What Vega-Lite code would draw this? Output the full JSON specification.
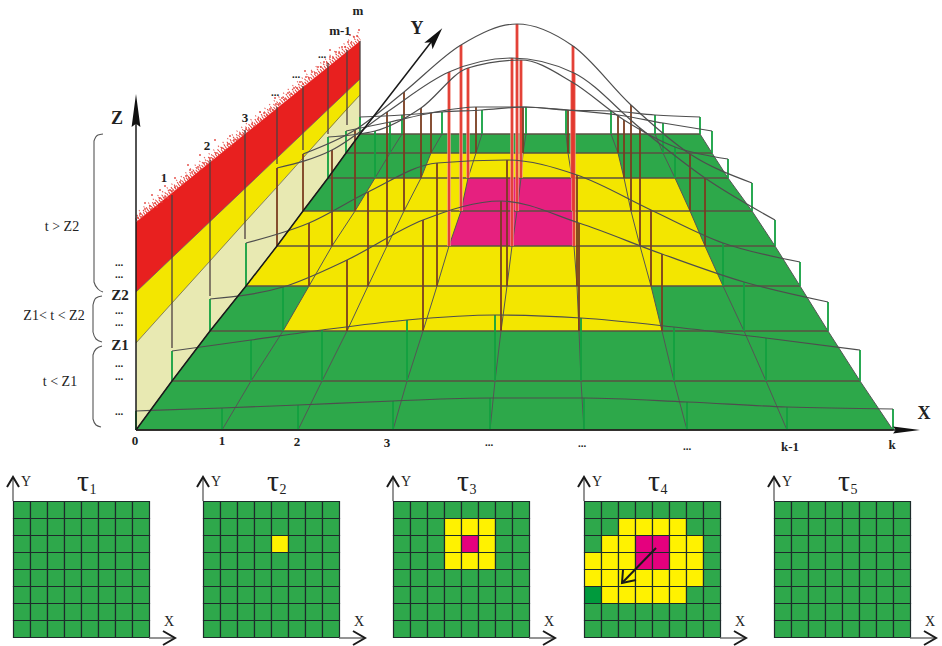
{"$schema":"https://vega.github.io/schema/vega-lite/v6.json","width":942,"height":646,"padding":0,"autosize":{"type":"none"},"background":"white",
"config":{"view":{"stroke":null},"axis":{"disable":true},"legend":{"disable":true},"text":{"font":"Liberation Serif","color":"#222"}},
"resolve":{"scale":{"fill":"independent"}},
"datasets":{
"floor":[{"y":134,"x":360,"x2":700},{"y":153,"x":346,"x2":712},{"y":178,"x":328,"x2":728},{"y":211,"x":303,"x2":752},{"y":246,"x":277,"x2":775},{"y":286,"x":246,"x2":800},{"y":331,"x":210,"x2":828},{"y":381,"x":172,"x2":860},{"y":430,"x":136,"x2":893}],
"yellow":[{"g":1,"y":153,"x":431,"x2":618},{"g":1,"y":178,"x":421,"x2":624},{"g":2,"y":178,"x":375,"x2":675},{"g":2,"y":211,"x":355,"x2":690},{"g":3,"y":211,"x":303,"x2":690},{"g":3,"y":246,"x":277,"x2":705},{"g":3,"y":286,"x":246,"x2":723},{"g":4,"y":286,"x":309,"x2":651},{"g":4,"y":331,"x":283,"x2":662}],
"pink":[{"y":178,"x":468,"x2":572},{"y":211,"x":461,"x2":573},{"y":246,"x":449,"x2":574}],
"sticks":[
{"p":134,"l":0,"x":360,"t":117,"c":"g"},{"p":134,"l":1,"x":402,"t":115,"c":"g"},{"p":134,"l":2,"x":442,"t":112,"c":"g"},{"p":134,"l":3,"x":482,"t":110,"c":"g"},{"p":134,"l":4,"x":526,"t":107,"c":"g"},{"p":134,"l":5,"x":566,"t":110,"c":"g"},{"p":134,"l":6,"x":611,"t":111,"c":"g"},{"p":134,"l":7,"x":655,"t":115,"c":"g"},{"p":134,"l":8,"x":700,"t":117,"c":"g"},
{"p":153,"l":0,"x":346,"t":131,"c":"g"},{"p":153,"l":1,"x":390,"t":122,"c":"g"},{"p":153,"l":2,"x":431,"t":113,"c":"b"},{"p":153,"l":3,"x":476,"t":107,"c":"b"},{"p":153,"l":4,"x":523,"t":107,"c":"b"},{"p":153,"l":5,"x":568,"t":110,"c":"b"},{"p":153,"l":6,"x":618,"t":115,"c":"b"},{"p":153,"l":7,"x":663,"t":123,"c":"g"},{"p":153,"l":8,"x":712,"t":131,"c":"g"},
{"p":178,"l":0,"x":328,"t":137,"c":"g"},{"p":178,"l":1,"x":375,"t":131,"c":"g"},{"p":178,"l":2,"x":421,"t":108,"c":"b"},{"p":178,"l":3,"x":468,"t":68,"c":"r"},{"p":178,"l":4,"x":521,"t":60,"c":"r"},{"p":178,"l":5,"x":572,"t":82,"c":"r"},{"p":178,"l":6,"x":624,"t":120,"c":"b"},{"p":178,"l":7,"x":675,"t":147,"c":"g"},{"p":178,"l":8,"x":728,"t":159,"c":"g"},
{"p":211,"l":0,"x":303,"t":154,"c":"b"},{"p":211,"l":1,"x":355,"t":130,"c":"b"},{"p":211,"l":2,"x":404,"t":92,"c":"b"},{"p":211,"l":3,"x":461,"t":45,"c":"r"},{"p":211,"l":4,"x":517,"t":24,"c":"r"},{"p":211,"l":5,"x":573,"t":46,"c":"r"},{"p":211,"l":6,"x":631,"t":105,"c":"b"},{"p":211,"l":7,"x":690,"t":154,"c":"b"},{"p":211,"l":8,"x":752,"t":183,"c":"g"},
{"p":246,"l":0,"x":277,"t":168,"c":"b"},{"p":246,"l":1,"x":332,"t":150,"c":"b"},{"p":246,"l":2,"x":387,"t":112,"c":"b"},{"p":246,"l":3,"x":449,"t":72,"c":"r"},{"p":246,"l":4,"x":512,"t":58,"c":"r"},{"p":246,"l":5,"x":574,"t":73,"c":"r"},{"p":246,"l":6,"x":640,"t":128,"c":"b"},{"p":246,"l":7,"x":705,"t":178,"c":"b"},{"p":246,"l":8,"x":775,"t":220,"c":"g"},
{"p":286,"l":0,"x":246,"t":243,"c":"g"},{"p":286,"l":1,"x":309,"t":223,"c":"b"},{"p":286,"l":2,"x":368,"t":192,"c":"b"},{"p":286,"l":3,"x":437,"t":163,"c":"b"},{"p":286,"l":4,"x":507,"t":160,"c":"b"},{"p":286,"l":5,"x":577,"t":175,"c":"b"},{"p":286,"l":6,"x":651,"t":210,"c":"b"},{"p":286,"l":7,"x":723,"t":243,"c":"g"},{"p":286,"l":8,"x":800,"t":262,"c":"g"},
{"p":331,"l":0,"x":210,"t":299,"c":"g"},{"p":331,"l":1,"x":283,"t":287,"c":"g"},{"p":331,"l":2,"x":347,"t":260,"c":"b"},{"p":331,"l":3,"x":423,"t":220,"c":"b"},{"p":331,"l":4,"x":501,"t":201,"c":"b"},{"p":331,"l":5,"x":579,"t":223,"c":"b"},{"p":331,"l":6,"x":662,"t":254,"c":"b"},{"p":331,"l":7,"x":744,"t":282,"c":"g"},{"p":331,"l":8,"x":828,"t":302,"c":"g"},
{"p":381,"l":0,"x":172,"t":351,"c":"g"},{"p":381,"l":1,"x":251,"t":340,"c":"g"},{"p":381,"l":2,"x":322,"t":330,"c":"g"},{"p":381,"l":3,"x":407,"t":320,"c":"g"},{"p":381,"l":4,"x":495,"t":315,"c":"g"},{"p":381,"l":5,"x":581,"t":318,"c":"g"},{"p":381,"l":6,"x":674,"t":327,"c":"g"},{"p":381,"l":7,"x":766,"t":338,"c":"g"},{"p":381,"l":8,"x":860,"t":350,"c":"g"},
{"p":430,"l":0,"x":136,"t":411,"c":"g"},{"p":430,"l":1,"x":222,"t":408,"c":"g"},{"p":430,"l":2,"x":298,"t":405,"c":"g"},{"p":430,"l":3,"x":393,"t":401,"c":"g"},{"p":430,"l":4,"x":490,"t":398,"c":"g"},{"p":430,"l":5,"x":584,"t":398,"c":"g"},{"p":430,"l":6,"x":687,"t":402,"c":"g"},{"p":430,"l":7,"x":787,"t":407,"c":"g"},{"p":430,"l":8,"x":893,"t":409,"c":"g"}],
"bands":[{"g":"pale","x":136,"y":343,"y2":430},{"g":"pale","x":172,"y":303,"y2":381},{"g":"pale","x":210,"y":261,"y2":331},{"g":"pale","x":246,"y":221,"y2":286},{"g":"pale","x":277,"y":187,"y2":246},{"g":"pale","x":303,"y":158,"y2":211},{"g":"pale","x":328,"y":130,"y2":178},{"g":"pale","x":346,"y":110,"y2":153},{"g":"pale","x":360,"y":95,"y2":134},{"g":"yel","x":136,"y":292,"y2":343},{"g":"yel","x":360,"y":79,"y2":95},{"g":"red","x":136,"y":222,"y2":292},{"g":"red","x":360,"y":41,"y2":79}],
"wall":[{"x":172,"y":195,"y2":348},{"x":210,"y":160,"y2":296},{"x":245,"y":130,"y2":239},{"x":277,"y":107,"y2":164},{"x":303,"y":86,"y2":150},{"x":328,"y":63,"y2":134},{"x":347,"y":50,"y2":125},{"x":360,"y":41,"y2":120}],
"fringe":[{"g":"a","x":136,"y":220},{"g":"a","x":360,"y":39},{"g":"b","x":137,"y":216},{"g":"b","x":360,"y":35},{"g":"c","x":139,"y":211},{"g":"c","x":360,"y":31}],
"speck":[{"x":138,"y":218},{"x":140,"y":214},{"x":142,"y":217},{"x":145,"y":209},{"x":147,"y":213},{"x":150,"y":206},{"x":152,"y":209},{"x":155,"y":203},{"x":157,"y":207},{"x":160,"y":198},{"x":162,"y":202},{"x":165,"y":197},{"x":168,"y":198},{"x":170,"y":190},{"x":172,"y":191},{"x":175,"y":187},{"x":178,"y":188},{"x":180,"y":182},{"x":152,"y":195},{"x":165,"y":186},{"x":183,"y":184},{"x":186,"y":176},{"x":189,"y":178},{"x":192,"y":172},{"x":195,"y":173},{"x":198,"y":167},{"x":201,"y":169},{"x":204,"y":163},{"x":207,"y":164},{"x":210,"y":158},{"x":213,"y":159},{"x":216,"y":153},{"x":219,"y":155},{"x":222,"y":148},{"x":225,"y":150},{"x":228,"y":144},{"x":231,"y":146},{"x":234,"y":140},{"x":237,"y":140},{"x":240,"y":134},{"x":243,"y":135},{"x":246,"y":129},{"x":249,"y":130},{"x":252,"y":124},{"x":255,"y":126},{"x":258,"y":119},{"x":261,"y":120},{"x":264,"y":113},{"x":267,"y":115},{"x":270,"y":109},{"x":273,"y":110},{"x":276,"y":104},{"x":279,"y":104},{"x":282,"y":98},{"x":285,"y":99},{"x":288,"y":93},{"x":291,"y":94},{"x":294,"y":88},{"x":297,"y":88},{"x":300,"y":82},{"x":303,"y":84},{"x":306,"y":77},{"x":309,"y":78},{"x":312,"y":72},{"x":315,"y":73},{"x":318,"y":67},{"x":321,"y":67},{"x":324,"y":62},{"x":327,"y":63},{"x":330,"y":57},{"x":333,"y":58},{"x":336,"y":52},{"x":339,"y":53},{"x":342,"y":47},{"x":345,"y":47},{"x":348,"y":42},{"x":351,"y":43},{"x":354,"y":37},{"x":357,"y":36},{"x":359,"y":30},{"x":200,"y":155},{"x":215,"y":140},{"x":188,"y":165},{"x":175,"y":178},{"x":230,"y":136},{"x":260,"y":112},{"x":275,"y":98},{"x":190,"y":170},{"x":160,"y":190},{"x":145,"y":203},{"x":305,"y":71},{"x":330,"y":50},{"x":350,"y":35}],
"axes":[{"g":"Z","x":136,"y":430},{"g":"Z","x":136,"y":110},{"g":"X","x":136,"y":430},{"g":"X","x":905,"y":430},{"g":"Y","x":136,"y":430},{"g":"Y","x":172,"y":381},{"g":"Y","x":210,"y":331},{"g":"Y","x":246,"y":286},{"g":"Y","x":277,"y":246},{"g":"Y","x":303,"y":211},{"g":"Y","x":328,"y":178},{"g":"Y","x":346,"y":153},{"g":"Y","x":360,"y":134},{"g":"Y","x":435,"y":37}],
"braces":[{"g":"a","i":0,"x":103,"y":134},{"g":"a","i":1,"x":98,"y":135},{"g":"a","i":2,"x":94,"y":141},{"g":"a","i":3,"x":94,"y":282},{"g":"a","i":4,"x":98,"y":289},{"g":"a","i":5,"x":103,"y":292},{"g":"b","i":0,"x":102,"y":296},{"g":"b","i":1,"x":96,"y":298},{"g":"b","i":2,"x":93,"y":305},{"g":"b","i":3,"x":93,"y":332},{"g":"b","i":4,"x":96,"y":339},{"g":"b","i":5,"x":102,"y":342},{"g":"c","i":0,"x":102,"y":346},{"g":"c","i":1,"x":96,"y":349},{"g":"c","i":2,"x":93,"y":355},{"g":"c","i":3,"x":93,"y":419},{"g":"c","i":4,"x":96,"y":425},{"g":"c","i":5,"x":101,"y":427}],
"paxes":[{"g":"1y","i":0,"x":13,"y":501},{"g":"1y","i":1,"x":13,"y":479},{"g":"1x","i":0,"x":149,"y":638},{"g":"1x","i":1,"x":173,"y":638},{"g":"2y","i":0,"x":203,"y":501},{"g":"2y","i":1,"x":203,"y":479},{"g":"2x","i":0,"x":339,"y":638},{"g":"2x","i":1,"x":363,"y":638},{"g":"3y","i":0,"x":393,"y":501},{"g":"3y","i":1,"x":393,"y":479},{"g":"3x","i":0,"x":529,"y":638},{"g":"3x","i":1,"x":553,"y":638},{"g":"4y","i":0,"x":584,"y":501},{"g":"4y","i":1,"x":584,"y":479},{"g":"4x","i":0,"x":720,"y":638},{"g":"4x","i":1,"x":744,"y":638},{"g":"5y","i":0,"x":774,"y":501},{"g":"5y","i":1,"x":774,"y":479},{"g":"5x","i":0,"x":910,"y":638},{"g":"5x","i":1,"x":934,"y":638}],
"chev":[{"g":"1y","i":0,"x":7,"y":487},{"g":"1y","i":1,"x":13,"y":477},{"g":"1y","i":2,"x":19,"y":487},{"g":"1x","i":0,"x":163,"y":631},{"g":"1x","i":1,"x":175,"y":638},{"g":"1x","i":2,"x":163,"y":645},{"g":"2y","i":0,"x":197,"y":487},{"g":"2y","i":1,"x":203,"y":477},{"g":"2y","i":2,"x":209,"y":487},{"g":"2x","i":0,"x":353,"y":631},{"g":"2x","i":1,"x":365,"y":638},{"g":"2x","i":2,"x":353,"y":645},{"g":"3y","i":0,"x":387,"y":487},{"g":"3y","i":1,"x":393,"y":477},{"g":"3y","i":2,"x":399,"y":487},{"g":"3x","i":0,"x":543,"y":631},{"g":"3x","i":1,"x":555,"y":638},{"g":"3x","i":2,"x":543,"y":645},{"g":"4y","i":0,"x":578,"y":487},{"g":"4y","i":1,"x":584,"y":477},{"g":"4y","i":2,"x":590,"y":487},{"g":"4x","i":0,"x":734,"y":631},{"g":"4x","i":1,"x":746,"y":638},{"g":"4x","i":2,"x":734,"y":645},{"g":"5y","i":0,"x":768,"y":487},{"g":"5y","i":1,"x":774,"y":477},{"g":"5y","i":2,"x":780,"y":487},{"g":"5x","i":0,"x":924,"y":631},{"g":"5x","i":1,"x":936,"y":638},{"g":"5x","i":2,"x":924,"y":645},{"g":"s","i":0,"x":656,"y":548},{"g":"s","i":1,"x":622,"y":583},{"g":"w","i":0,"x":623,"y":570},{"g":"w","i":1,"x":622,"y":583},{"g":"w","i":2,"x":636,"y":580}],
"labB":[{"t":"Z","x":117,"y":119},{"t":"Y","x":417,"y":29},{"t":"X","x":924,"y":414}],
"labM":[{"t":"1","x":164,"y":178},{"t":"2","x":207,"y":146},{"t":"3","x":245,"y":118},{"t":"m-1","x":340,"y":31},{"t":"m","x":358,"y":11},{"t":"0","x":135,"y":441},{"t":"1","x":222,"y":441},{"t":"2","x":297,"y":442},{"t":"3","x":387,"y":443},{"t":"k-1","x":790,"y":447},{"t":"k","x":892,"y":445}],
"labZ":[{"t":"Z2","x":120,"y":295},{"t":"Z1","x":120,"y":345}],
"labL":[{"t":"t > Z2","x":62,"y":227},{"t":"Z1< t < Z2","x":54,"y":316},{"t":"t < Z1","x":60,"y":382}],
"dots":[{"x":119,"y":266},{"x":119,"y":278},{"x":119,"y":314},{"x":119,"y":326},{"x":119,"y":367},{"x":119,"y":380},{"x":119,"y":415},{"x":275,"y":96},{"x":296,"y":78},{"x":322,"y":58},{"x":489,"y":446},{"x":582,"y":447},{"x":687,"y":450}],
"tau":[{"x":83,"y":482},{"x":273,"y":482},{"x":463,"y":482},{"x":654,"y":482},{"x":844,"y":482}],
"sub":[{"t":"1","x":93,"y":490},{"t":"2","x":283,"y":490},{"t":"3","x":473,"y":490},{"t":"4","x":664,"y":490},{"t":"5","x":854,"y":490}],
"pX":[{"x":169,"y":622},{"x":359,"y":622},{"x":549,"y":622},{"x":740,"y":622},{"x":930,"y":622}],
"pY":[{"x":26,"y":482},{"x":216,"y":482},{"x":406,"y":482},{"x":597,"y":482},{"x":787,"y":482}],
"cells":[
{"x":22,"y":510,"s":"g"},{"x":39,"y":510,"s":"g"},{"x":56,"y":510,"s":"g"},{"x":73,"y":510,"s":"g"},{"x":90,"y":510,"s":"g"},{"x":107,"y":510,"s":"g"},{"x":124,"y":510,"s":"g"},{"x":141,"y":510,"s":"g"},
{"x":22,"y":527,"s":"g"},{"x":39,"y":527,"s":"g"},{"x":56,"y":527,"s":"g"},{"x":73,"y":527,"s":"g"},{"x":90,"y":527,"s":"g"},{"x":107,"y":527,"s":"g"},{"x":124,"y":527,"s":"g"},{"x":141,"y":527,"s":"g"},
{"x":22,"y":544,"s":"g"},{"x":39,"y":544,"s":"g"},{"x":56,"y":544,"s":"g"},{"x":73,"y":544,"s":"g"},{"x":90,"y":544,"s":"g"},{"x":107,"y":544,"s":"g"},{"x":124,"y":544,"s":"g"},{"x":141,"y":544,"s":"g"},
{"x":22,"y":561,"s":"g"},{"x":39,"y":561,"s":"g"},{"x":56,"y":561,"s":"g"},{"x":73,"y":561,"s":"g"},{"x":90,"y":561,"s":"g"},{"x":107,"y":561,"s":"g"},{"x":124,"y":561,"s":"g"},{"x":141,"y":561,"s":"g"},
{"x":22,"y":578,"s":"g"},{"x":39,"y":578,"s":"g"},{"x":56,"y":578,"s":"g"},{"x":73,"y":578,"s":"g"},{"x":90,"y":578,"s":"g"},{"x":107,"y":578,"s":"g"},{"x":124,"y":578,"s":"g"},{"x":141,"y":578,"s":"g"},
{"x":22,"y":595,"s":"g"},{"x":39,"y":595,"s":"g"},{"x":56,"y":595,"s":"g"},{"x":73,"y":595,"s":"g"},{"x":90,"y":595,"s":"g"},{"x":107,"y":595,"s":"g"},{"x":124,"y":595,"s":"g"},{"x":141,"y":595,"s":"g"},
{"x":22,"y":612,"s":"g"},{"x":39,"y":612,"s":"g"},{"x":56,"y":612,"s":"g"},{"x":73,"y":612,"s":"g"},{"x":90,"y":612,"s":"g"},{"x":107,"y":612,"s":"g"},{"x":124,"y":612,"s":"g"},{"x":141,"y":612,"s":"g"},
{"x":22,"y":629,"s":"g"},{"x":39,"y":629,"s":"g"},{"x":56,"y":629,"s":"g"},{"x":73,"y":629,"s":"g"},{"x":90,"y":629,"s":"g"},{"x":107,"y":629,"s":"g"},{"x":124,"y":629,"s":"g"},{"x":141,"y":629,"s":"g"},
{"x":212,"y":510,"s":"g"},{"x":229,"y":510,"s":"g"},{"x":246,"y":510,"s":"g"},{"x":263,"y":510,"s":"g"},{"x":280,"y":510,"s":"g"},{"x":297,"y":510,"s":"g"},{"x":314,"y":510,"s":"g"},{"x":331,"y":510,"s":"g"},
{"x":212,"y":527,"s":"g"},{"x":229,"y":527,"s":"g"},{"x":246,"y":527,"s":"g"},{"x":263,"y":527,"s":"g"},{"x":280,"y":527,"s":"g"},{"x":297,"y":527,"s":"g"},{"x":314,"y":527,"s":"g"},{"x":331,"y":527,"s":"g"},
{"x":212,"y":544,"s":"g"},{"x":229,"y":544,"s":"g"},{"x":246,"y":544,"s":"g"},{"x":263,"y":544,"s":"g"},{"x":280,"y":544,"s":"y"},{"x":297,"y":544,"s":"g"},{"x":314,"y":544,"s":"g"},{"x":331,"y":544,"s":"g"},
{"x":212,"y":561,"s":"g"},{"x":229,"y":561,"s":"g"},{"x":246,"y":561,"s":"g"},{"x":263,"y":561,"s":"g"},{"x":280,"y":561,"s":"g"},{"x":297,"y":561,"s":"g"},{"x":314,"y":561,"s":"g"},{"x":331,"y":561,"s":"g"},
{"x":212,"y":578,"s":"g"},{"x":229,"y":578,"s":"g"},{"x":246,"y":578,"s":"g"},{"x":263,"y":578,"s":"g"},{"x":280,"y":578,"s":"g"},{"x":297,"y":578,"s":"g"},{"x":314,"y":578,"s":"g"},{"x":331,"y":578,"s":"g"},
{"x":212,"y":595,"s":"g"},{"x":229,"y":595,"s":"g"},{"x":246,"y":595,"s":"g"},{"x":263,"y":595,"s":"g"},{"x":280,"y":595,"s":"g"},{"x":297,"y":595,"s":"g"},{"x":314,"y":595,"s":"g"},{"x":331,"y":595,"s":"g"},
{"x":212,"y":612,"s":"g"},{"x":229,"y":612,"s":"g"},{"x":246,"y":612,"s":"g"},{"x":263,"y":612,"s":"g"},{"x":280,"y":612,"s":"g"},{"x":297,"y":612,"s":"g"},{"x":314,"y":612,"s":"g"},{"x":331,"y":612,"s":"g"},
{"x":212,"y":629,"s":"g"},{"x":229,"y":629,"s":"g"},{"x":246,"y":629,"s":"g"},{"x":263,"y":629,"s":"g"},{"x":280,"y":629,"s":"g"},{"x":297,"y":629,"s":"g"},{"x":314,"y":629,"s":"g"},{"x":331,"y":629,"s":"g"},
{"x":402,"y":510,"s":"g"},{"x":419,"y":510,"s":"g"},{"x":436,"y":510,"s":"g"},{"x":453,"y":510,"s":"g"},{"x":470,"y":510,"s":"g"},{"x":487,"y":510,"s":"g"},{"x":504,"y":510,"s":"g"},{"x":521,"y":510,"s":"g"},
{"x":402,"y":527,"s":"g"},{"x":419,"y":527,"s":"g"},{"x":436,"y":527,"s":"g"},{"x":453,"y":527,"s":"y"},{"x":470,"y":527,"s":"y"},{"x":487,"y":527,"s":"y"},{"x":504,"y":527,"s":"g"},{"x":521,"y":527,"s":"g"},
{"x":402,"y":544,"s":"g"},{"x":419,"y":544,"s":"g"},{"x":436,"y":544,"s":"g"},{"x":453,"y":544,"s":"y"},{"x":470,"y":544,"s":"p"},{"x":487,"y":544,"s":"y"},{"x":504,"y":544,"s":"g"},{"x":521,"y":544,"s":"g"},
{"x":402,"y":561,"s":"g"},{"x":419,"y":561,"s":"g"},{"x":436,"y":561,"s":"g"},{"x":453,"y":561,"s":"y"},{"x":470,"y":561,"s":"y"},{"x":487,"y":561,"s":"y"},{"x":504,"y":561,"s":"g"},{"x":521,"y":561,"s":"g"},
{"x":402,"y":578,"s":"g"},{"x":419,"y":578,"s":"g"},{"x":436,"y":578,"s":"g"},{"x":453,"y":578,"s":"g"},{"x":470,"y":578,"s":"g"},{"x":487,"y":578,"s":"g"},{"x":504,"y":578,"s":"g"},{"x":521,"y":578,"s":"g"},
{"x":402,"y":595,"s":"g"},{"x":419,"y":595,"s":"g"},{"x":436,"y":595,"s":"g"},{"x":453,"y":595,"s":"g"},{"x":470,"y":595,"s":"g"},{"x":487,"y":595,"s":"g"},{"x":504,"y":595,"s":"g"},{"x":521,"y":595,"s":"g"},
{"x":402,"y":612,"s":"g"},{"x":419,"y":612,"s":"g"},{"x":436,"y":612,"s":"g"},{"x":453,"y":612,"s":"g"},{"x":470,"y":612,"s":"g"},{"x":487,"y":612,"s":"g"},{"x":504,"y":612,"s":"g"},{"x":521,"y":612,"s":"g"},
{"x":402,"y":629,"s":"g"},{"x":419,"y":629,"s":"g"},{"x":436,"y":629,"s":"g"},{"x":453,"y":629,"s":"g"},{"x":470,"y":629,"s":"g"},{"x":487,"y":629,"s":"g"},{"x":504,"y":629,"s":"g"},{"x":521,"y":629,"s":"g"},
{"x":593,"y":510,"s":"g"},{"x":610,"y":510,"s":"g"},{"x":627,"y":510,"s":"g"},{"x":644,"y":510,"s":"g"},{"x":661,"y":510,"s":"g"},{"x":678,"y":510,"s":"g"},{"x":695,"y":510,"s":"g"},{"x":712,"y":510,"s":"g"},
{"x":593,"y":527,"s":"g"},{"x":610,"y":527,"s":"g"},{"x":627,"y":527,"s":"y"},{"x":644,"y":527,"s":"y"},{"x":661,"y":527,"s":"y"},{"x":678,"y":527,"s":"y"},{"x":695,"y":527,"s":"g"},{"x":712,"y":527,"s":"g"},
{"x":593,"y":544,"s":"g"},{"x":610,"y":544,"s":"y"},{"x":627,"y":544,"s":"y"},{"x":644,"y":544,"s":"p"},{"x":661,"y":544,"s":"p"},{"x":678,"y":544,"s":"y"},{"x":695,"y":544,"s":"y"},{"x":712,"y":544,"s":"g"},
{"x":593,"y":561,"s":"y"},{"x":610,"y":561,"s":"y"},{"x":627,"y":561,"s":"y"},{"x":644,"y":561,"s":"p"},{"x":661,"y":561,"s":"p"},{"x":678,"y":561,"s":"y"},{"x":695,"y":561,"s":"y"},{"x":712,"y":561,"s":"g"},
{"x":593,"y":578,"s":"y"},{"x":610,"y":578,"s":"y"},{"x":627,"y":578,"s":"y"},{"x":644,"y":578,"s":"y"},{"x":661,"y":578,"s":"y"},{"x":678,"y":578,"s":"y"},{"x":695,"y":578,"s":"y"},{"x":712,"y":578,"s":"g"},
{"x":593,"y":595,"s":"d"},{"x":610,"y":595,"s":"y"},{"x":627,"y":595,"s":"y"},{"x":644,"y":595,"s":"y"},{"x":661,"y":595,"s":"y"},{"x":678,"y":595,"s":"y"},{"x":695,"y":595,"s":"g"},{"x":712,"y":595,"s":"g"},
{"x":593,"y":612,"s":"g"},{"x":610,"y":612,"s":"g"},{"x":627,"y":612,"s":"g"},{"x":644,"y":612,"s":"g"},{"x":661,"y":612,"s":"g"},{"x":678,"y":612,"s":"g"},{"x":695,"y":612,"s":"g"},{"x":712,"y":612,"s":"g"},
{"x":593,"y":629,"s":"g"},{"x":610,"y":629,"s":"g"},{"x":627,"y":629,"s":"g"},{"x":644,"y":629,"s":"g"},{"x":661,"y":629,"s":"g"},{"x":678,"y":629,"s":"g"},{"x":695,"y":629,"s":"g"},{"x":712,"y":629,"s":"g"},
{"x":783,"y":510,"s":"g"},{"x":800,"y":510,"s":"g"},{"x":817,"y":510,"s":"g"},{"x":834,"y":510,"s":"g"},{"x":851,"y":510,"s":"g"},{"x":868,"y":510,"s":"g"},{"x":885,"y":510,"s":"g"},{"x":902,"y":510,"s":"g"},
{"x":783,"y":527,"s":"g"},{"x":800,"y":527,"s":"g"},{"x":817,"y":527,"s":"g"},{"x":834,"y":527,"s":"g"},{"x":851,"y":527,"s":"g"},{"x":868,"y":527,"s":"g"},{"x":885,"y":527,"s":"g"},{"x":902,"y":527,"s":"g"},
{"x":783,"y":544,"s":"g"},{"x":800,"y":544,"s":"g"},{"x":817,"y":544,"s":"g"},{"x":834,"y":544,"s":"g"},{"x":851,"y":544,"s":"g"},{"x":868,"y":544,"s":"g"},{"x":885,"y":544,"s":"g"},{"x":902,"y":544,"s":"g"},
{"x":783,"y":561,"s":"g"},{"x":800,"y":561,"s":"g"},{"x":817,"y":561,"s":"g"},{"x":834,"y":561,"s":"g"},{"x":851,"y":561,"s":"g"},{"x":868,"y":561,"s":"g"},{"x":885,"y":561,"s":"g"},{"x":902,"y":561,"s":"g"},
{"x":783,"y":578,"s":"g"},{"x":800,"y":578,"s":"g"},{"x":817,"y":578,"s":"g"},{"x":834,"y":578,"s":"g"},{"x":851,"y":578,"s":"g"},{"x":868,"y":578,"s":"g"},{"x":885,"y":578,"s":"g"},{"x":902,"y":578,"s":"g"},
{"x":783,"y":595,"s":"g"},{"x":800,"y":595,"s":"g"},{"x":817,"y":595,"s":"g"},{"x":834,"y":595,"s":"g"},{"x":851,"y":595,"s":"g"},{"x":868,"y":595,"s":"g"},{"x":885,"y":595,"s":"g"},{"x":902,"y":595,"s":"g"},
{"x":783,"y":612,"s":"g"},{"x":800,"y":612,"s":"g"},{"x":817,"y":612,"s":"g"},{"x":834,"y":612,"s":"g"},{"x":851,"y":612,"s":"g"},{"x":868,"y":612,"s":"g"},{"x":885,"y":612,"s":"g"},{"x":902,"y":612,"s":"g"},
{"x":783,"y":629,"s":"g"},{"x":800,"y":629,"s":"g"},{"x":817,"y":629,"s":"g"},{"x":834,"y":629,"s":"g"},{"x":851,"y":629,"s":"g"},{"x":868,"y":629,"s":"g"},{"x":885,"y":629,"s":"g"},{"x":902,"y":629,"s":"g"}]
},
"encoding":{"x":{"field":"x","type":"quantitative","scale":{"domain":[0,942]}},"y":{"field":"y","type":"quantitative","scale":{"domain":[646,0]}}},
"layer":[
{"data":{"name":"bands"},"mark":{"type":"area","opacity":1},"encoding":{"y2":{"field":"y2"},"detail":{"field":"g"},"fill":{"field":"g","scale":{"domain":["pale","yel","red"],"range":["#e8e9b2","#f3e600","#e8201f"]}}}},
{"data":{"name":"bands"},"transform":[{"filter":"datum.g!='red'"}],"mark":{"type":"line","stroke":"#555","strokeWidth":0.7},"encoding":{"detail":{"field":"g"}}},
{"data":{"name":"fringe"},"transform":[{"filter":"datum.g=='a'"}],"mark":{"type":"line","stroke":"#e2413c","strokeWidth":3,"strokeDash":[1,1.5]}},
{"data":{"name":"fringe"},"transform":[{"filter":"datum.g=='b'"}],"mark":{"type":"line","stroke":"#e2413c","strokeWidth":2,"strokeDash":[1,3]}},
{"data":{"name":"fringe"},"transform":[{"filter":"datum.g=='c'"}],"mark":{"type":"line","stroke":"#e8625c","strokeWidth":1.5,"strokeDash":[1,5]}},
{"data":{"name":"speck"},"mark":{"type":"circle","size":4,"color":"#e2413c","opacity":0.9}},
{"data":{"name":"wall"},"mark":{"type":"rule","stroke":"#4d4040","strokeWidth":1.3},"encoding":{"y2":{"field":"y2"}}},
{"data":{"name":"floor"},"mark":{"type":"area","orient":"horizontal","fill":"#2da84a","opacity":1},"encoding":{"x2":{"field":"x2"}}},
{"data":{"name":"yellow"},"mark":{"type":"area","orient":"horizontal","fill":"#f3e600","opacity":1},"encoding":{"x2":{"field":"x2"},"detail":{"field":"g"}}},
{"data":{"name":"pink"},"mark":{"type":"area","orient":"horizontal","fill":"#e6207f","opacity":1},"encoding":{"x2":{"field":"x2"}}},
{"data":{"name":"floor"},"mark":{"type":"rule","stroke":"#5a5042","strokeWidth":1.4},"encoding":{"x2":{"field":"x2"}}},
{"data":{"name":"sticks"},"mark":{"type":"line","stroke":"#555","strokeWidth":1},"encoding":{"y":{"field":"p","type":"quantitative","scale":{"domain":[646,0]}},"detail":{"field":"l"}}},
{"data":{"name":"sticks"},"transform":[{"filter":"datum.c=='r'"}],"mark":{"type":"rule","stroke":"#f2958c","strokeWidth":3.4},"encoding":{"y":{"field":"t","type":"quantitative","scale":{"domain":[646,0]}},"y2":{"field":"p"}}},
{"data":{"name":"sticks"},"mark":{"type":"rule","strokeWidth":1.8},"encoding":{"y":{"field":"t","type":"quantitative","scale":{"domain":[646,0]}},"y2":{"field":"p"},"stroke":{"field":"c","scale":{"domain":["g","b","r"],"range":["#12a040","#7a3d20","#e2392f"]}}}},
{"data":{"name":"sticks"},"mark":{"type":"line","stroke":"#4e4e4e","strokeWidth":1.2,"interpolate":"monotone"},"encoding":{"y":{"field":"t","type":"quantitative","scale":{"domain":[646,0]}},"detail":{"field":"p"}}},
{"data":{"name":"axes"},"mark":{"type":"line","stroke":"#1a1a1a","strokeWidth":1.5},"encoding":{"detail":{"field":"g"}}},
{"data":{"values":[{"x":136,"y":116}]},"mark":{"type":"point","shape":"M0,-2L0.4,1L0,0.7L-0.4,1Z","size":484,"filled":true,"color":"#111","opacity":1}},
{"data":{"values":[{"x":902,"y":430}]},"mark":{"type":"point","shape":"M0,-2L0.4,1L0,0.7L-0.4,1Z","size":324,"angle":90,"filled":true,"color":"#111","opacity":1}},
{"data":{"values":[{"x":433,"y":40}]},"mark":{"type":"point","shape":"M0,-2L0.7,1L0,0.4L-0.7,1Z","size":225,"angle":38,"filled":true,"color":"#111","opacity":1}},
{"data":{"name":"braces"},"mark":{"type":"line","stroke":"#555","strokeWidth":1.1,"interpolate":"monotone"},"encoding":{"detail":{"field":"g"},"order":{"field":"i"}}},
{"data":{"name":"labB"},"mark":{"type":"text","fontSize":18,"fontWeight":"bold"},"encoding":{"text":{"field":"t"}}},
{"data":{"name":"labM"},"mark":{"type":"text","fontSize":13,"fontWeight":"bold"},"encoding":{"text":{"field":"t"}}},
{"data":{"name":"labZ"},"mark":{"type":"text","fontSize":15,"fontWeight":"bold"},"encoding":{"text":{"field":"t"}}},
{"data":{"name":"labL"},"mark":{"type":"text","fontSize":14},"encoding":{"text":{"field":"t"}}},
{"data":{"name":"dots"},"mark":{"type":"text","fontSize":11,"fontWeight":"bold","baseline":"alphabetic","text":"..."}},
{"data":{"name":"cells"},"mark":{"type":"rect","width":17,"height":17,"stroke":"#1d2b2b","strokeWidth":1.2,"opacity":1},"encoding":{"fill":{"field":"s","scale":{"domain":["g","y","p","d"],"range":["#2ea84b","#fff200","#e5007e","#009a3d"]}}}},
{"data":{"name":"paxes"},"mark":{"type":"line","stroke":"#666","strokeWidth":1.4},"encoding":{"detail":{"field":"g"},"order":{"field":"i"}}},
{"data":{"name":"chev"},"mark":{"type":"line","stroke":"#1a1a1a","strokeWidth":2},"encoding":{"detail":{"field":"g"},"order":{"field":"i"}}},
{"data":{"name":"tau"},"mark":{"type":"text","fontSize":30,"text":"τ"}},
{"data":{"name":"sub"},"mark":{"type":"text","fontSize":14},"encoding":{"text":{"field":"t"}}},
{"data":{"name":"pX"},"mark":{"type":"text","fontSize":14,"text":"X"}},
{"data":{"name":"pY"},"mark":{"type":"text","fontSize":14,"text":"Y"}}
]}
